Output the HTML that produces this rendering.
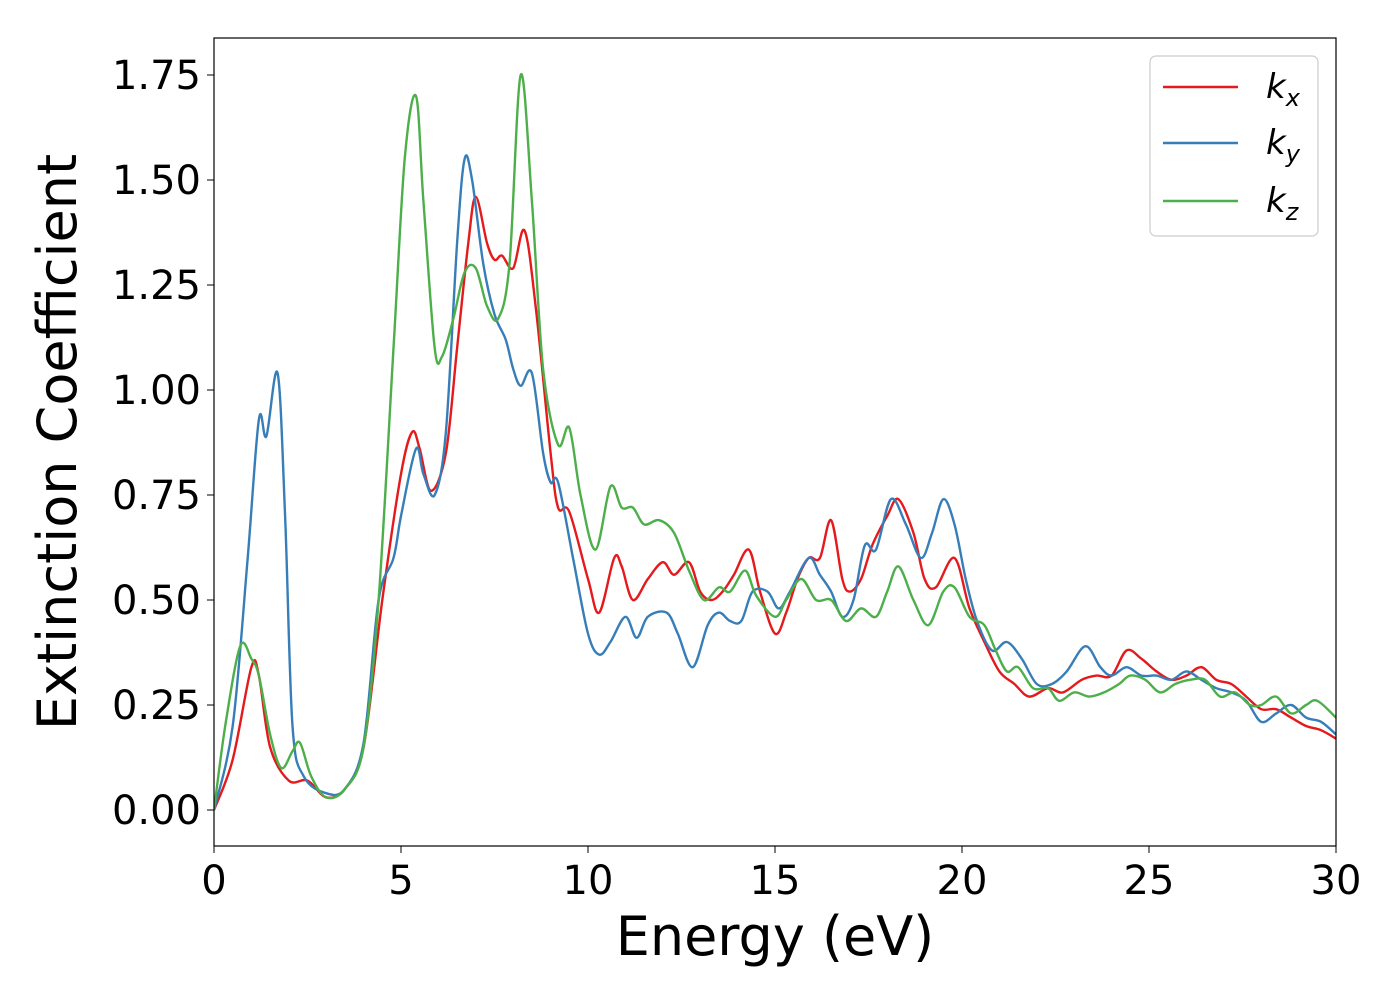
<!DOCTYPE html>
<html><head><meta charset="utf-8"><style>
html,body{margin:0;padding:0;background:#fff;}
svg{display:block;font-family:"DejaVu Sans","Liberation Sans",sans-serif;}
</style></head><body>
<svg id="chart" width="1400" height="1000">
<defs><clipPath id="pc"><rect x="214" y="38" width="1122" height="808"/></clipPath></defs>
<rect x="214" y="38" width="1122" height="808" fill="#fff"/>
<g id="ticks"></g>
<g id="series" clip-path="url(#pc)"></g>
<rect x="214" y="38" width="1122" height="808" fill="none" stroke="#000" stroke-width="1.2"/>
<text x="775" y="955" font-size="54" text-anchor="middle">Energy (eV)</text>
<text transform="translate(76,442) rotate(-90)" font-size="54" text-anchor="middle">Extinction Coefficient</text>
<g>
<rect x="1150" y="56" width="168" height="180" rx="6" fill="#fff" stroke="#ccc" stroke-width="1.2"/>
<g><line x1="1163" y1="87" x2="1238" y2="87" stroke="#e41a1c" stroke-width="2.5"/><text x="1266" y="98" font-size="34" font-style="italic">k<tspan font-size="24" dy="8">x</tspan></text></g>
<g><line x1="1163" y1="143" x2="1238" y2="143" stroke="#377eb8" stroke-width="2.5"/><text x="1266" y="154" font-size="34" font-style="italic">k<tspan font-size="24" dy="8">y</tspan></text></g>
<g><line x1="1163" y1="201" x2="1238" y2="201" stroke="#4daf4a" stroke-width="2.5"/><text x="1266" y="212" font-size="34" font-style="italic">k<tspan font-size="24" dy="8">z</tspan></text></g>
</g>
</svg>
<script>
const xTicks=[0,5,10,15,20,25,30];
const yTicks=[0,0.25,0.5,0.75,1.0,1.25,1.5,1.75];
const kxE=[0,0.5,1.0,1.2,1.5,2.0,2.5,3.0,3.5,4.0,4.5,5.0,5.3,5.5,5.8,6.2,6.5,6.8,7.0,7.3,7.5,7.7,8.0,8.3,8.6,9.0,9.2,9.5,10.0,10.3,10.7,10.9,11.2,11.6,12.0,12.3,12.7,13.0,13.3,13.6,13.9,14.3,14.6,15.0,15.3,15.6,15.9,16.2,16.5,16.8,17.0,17.3,17.6,18.0,18.3,18.7,19.0,19.3,19.8,20.2,20.6,21.0,21.4,21.8,22.3,22.7,23.2,23.6,24.0,24.4,24.8,25.2,25.6,26.0,26.4,26.8,27.2,27.6,28.0,28.4,28.8,29.2,29.6,30];
const kxV=[0,0.12,0.34,0.32,0.15,0.07,0.07,0.03,0.05,0.15,0.5,0.8,0.9,0.86,0.76,0.85,1.1,1.35,1.46,1.35,1.31,1.32,1.29,1.38,1.2,0.85,0.72,0.71,0.55,0.47,0.6,0.58,0.5,0.55,0.59,0.56,0.59,0.52,0.5,0.52,0.56,0.62,0.52,0.42,0.47,0.55,0.6,0.6,0.69,0.55,0.52,0.55,0.63,0.7,0.74,0.66,0.55,0.53,0.6,0.48,0.4,0.33,0.3,0.27,0.29,0.28,0.31,0.32,0.32,0.38,0.36,0.33,0.31,0.32,0.34,0.31,0.3,0.27,0.24,0.24,0.22,0.2,0.19,0.17];
const kyE=[0,0.5,0.9,1.2,1.4,1.7,1.9,2.1,2.4,3.0,3.5,4.0,4.4,4.8,5.0,5.4,5.6,5.9,6.2,6.5,6.7,6.9,7.2,7.5,7.8,8.0,8.2,8.5,8.8,9.0,9.2,9.6,10.0,10.3,10.6,11.0,11.3,11.6,12.1,12.4,12.8,13.2,13.5,13.8,14.1,14.4,14.8,15.1,15.4,15.9,16.2,16.5,16.8,17.1,17.4,17.7,18.1,18.5,18.9,19.2,19.5,19.8,20.1,20.4,20.8,21.2,21.6,22.0,22.4,22.8,23.3,23.7,24.0,24.4,24.8,25.2,25.6,26.0,26.4,26.8,27.2,27.6,28.0,28.4,28.8,29.2,29.6,30];
const kyV=[0,0.2,0.6,0.93,0.89,1.04,0.7,0.2,0.08,0.04,0.05,0.16,0.5,0.6,0.7,0.86,0.8,0.75,0.9,1.35,1.55,1.5,1.3,1.18,1.12,1.05,1.01,1.04,0.85,0.78,0.78,0.6,0.42,0.37,0.4,0.46,0.41,0.46,0.47,0.42,0.34,0.44,0.47,0.45,0.45,0.52,0.52,0.48,0.52,0.6,0.56,0.52,0.46,0.5,0.63,0.62,0.74,0.68,0.6,0.66,0.74,0.68,0.55,0.45,0.38,0.4,0.36,0.3,0.3,0.33,0.39,0.34,0.32,0.34,0.32,0.32,0.31,0.33,0.31,0.29,0.28,0.26,0.21,0.23,0.25,0.22,0.21,0.18];
const kzE=[0,0.3,0.7,1.0,1.2,1.5,1.8,2.1,2.3,2.6,3.0,3.5,4.0,4.4,4.8,5.1,5.4,5.6,5.9,6.1,6.4,6.7,7.0,7.3,7.6,7.9,8.2,8.5,8.8,9.2,9.5,9.8,10.2,10.6,10.9,11.2,11.5,11.9,12.3,12.7,13.1,13.5,13.8,14.2,14.5,15.0,15.3,15.7,16.1,16.5,16.9,17.3,17.7,18.0,18.3,18.7,19.1,19.5,19.8,20.2,20.6,20.9,21.2,21.5,21.9,22.3,22.6,23.0,23.4,23.8,24.2,24.5,24.9,25.3,25.7,26.1,26.5,26.9,27.3,27.7,28.0,28.4,28.8,29.2,29.5,30];
const kzV=[0,0.2,0.39,0.36,0.32,0.18,0.1,0.14,0.16,0.08,0.03,0.05,0.15,0.5,1.1,1.55,1.7,1.45,1.1,1.08,1.17,1.28,1.29,1.2,1.17,1.3,1.75,1.45,1.05,0.87,0.91,0.75,0.62,0.77,0.72,0.72,0.68,0.69,0.66,0.57,0.5,0.53,0.52,0.57,0.51,0.46,0.5,0.55,0.5,0.5,0.45,0.48,0.46,0.52,0.58,0.5,0.44,0.52,0.53,0.46,0.44,0.38,0.33,0.34,0.29,0.29,0.26,0.28,0.27,0.28,0.3,0.32,0.31,0.28,0.3,0.31,0.31,0.27,0.28,0.25,0.25,0.27,0.23,0.25,0.26,0.22];
const NS="http://www.w3.org/2000/svg";
function xs(e){return 214+e*(1122/30);}
function ys(v){return 810-v*420;}
const tg=document.getElementById('ticks');
xTicks.forEach(t=>{
 const l=document.createElementNS(NS,'line');
 l.setAttribute('x1',xs(t));l.setAttribute('x2',xs(t));l.setAttribute('y1',846);l.setAttribute('y2',853);l.setAttribute('stroke','#000');
 
 
 tg.appendChild(l);
 const s=document.createElementNS(NS,'text');
 s.setAttribute('x',xs(t));s.setAttribute('y',894);s.setAttribute('font-size','40');s.setAttribute('text-anchor','middle');
 s.textContent=t;
 
 
 tg.appendChild(s);
});
yTicks.forEach(t=>{
 const l=document.createElementNS(NS,'line');
 l.setAttribute('x1',207);l.setAttribute('x2',214);l.setAttribute('y1',ys(t));l.setAttribute('y2',ys(t));l.setAttribute('stroke','#000');
 
 
 tg.appendChild(l);
 const s=document.createElementNS(NS,'text');
 s.setAttribute('x',201);s.setAttribute('y',ys(t)+14);s.setAttribute('font-size','40');s.setAttribute('text-anchor','end');
 s.textContent=t.toFixed(2);
 
 
 tg.appendChild(s);
});
function pathD(E,V){
 const p=E.map((e,i)=>[xs(e),ys(V[i])]);
 let d='M'+p[0][0]+','+p[0][1];
 for(let i=0;i<p.length-1;i++){
  const p0=p[Math.max(0,i-1)],p1=p[i],p2=p[i+1],p3=p[Math.min(p.length-1,i+2)];
  const c1=[p1[0]+(p2[0]-p0[0])/6,p1[1]+(p2[1]-p0[1])/6];
  const c2=[p2[0]-(p3[0]-p1[0])/6,p2[1]-(p3[1]-p1[1])/6];
  d+=' C'+c1[0].toFixed(1)+','+c1[1].toFixed(1)+' '+c2[0].toFixed(1)+','+c2[1].toFixed(1)+' '+p2[0].toFixed(1)+','+p2[1].toFixed(1);
 }
 return d;
}
const sg=document.getElementById('series');
function addLine(E,V,c,name){
 const p=document.createElementNS(NS,'path');
 p.setAttribute('d',pathD(E,V));p.setAttribute('fill','none');p.setAttribute('stroke',c);p.setAttribute('stroke-width','2.4');
 
 
 sg.appendChild(p);
}
addLine(kxE,kxV,'#e41a1c','series-kx');
addLine(kyE,kyV,'#377eb8','series-ky');
addLine(kzE,kzV,'#4daf4a','series-kz');
</script>
</body></html>
